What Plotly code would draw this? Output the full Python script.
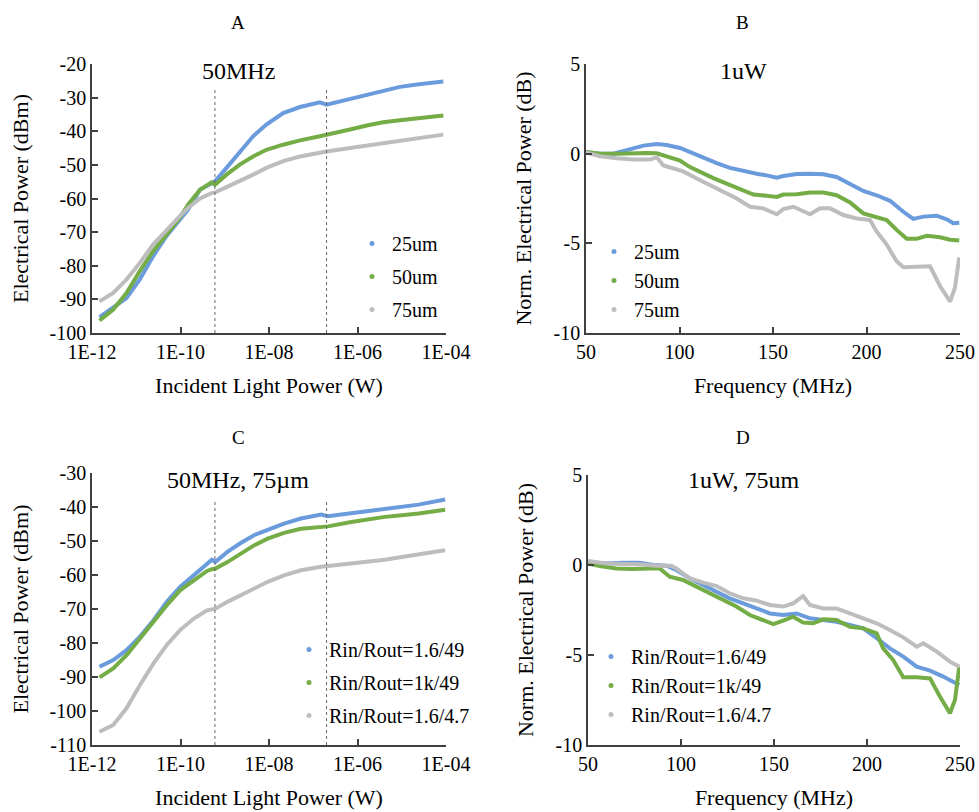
import plotly.graph_objects as go

FONT = "Liberation Serif, Times New Roman, DejaVu Serif, serif"
BLUE = "#6A9BDC"
GREEN = "#74AC46"
GRAY = "#BDBDBD"
COLORS = [BLUE, GREEN, GRAY]

# ---------------- Panel A: 50 MHz, Electrical power vs incident light power
a_logp = [-11.83, -11.52, -11.22, -10.92, -10.62, -10.32, -10.02, -9.83, -9.56, -9.30, -9.22,
          -8.96, -8.66, -8.36, -8.06, -7.68, -7.30, -6.85, -6.70, -6.17, -5.79, -5.42, -5.04,
          -4.66, -4.06]
a_25um = [-95.3, -92.5, -89.6, -84.1, -77.2, -71.2, -66.3, -63.3, -57.4, -55.3, -54.9,
          -50.9, -46.0, -41.5, -38.0, -34.6, -32.8, -31.4, -32.1, -30.4, -29.1, -27.8, -26.8,
          -26.1, -25.2]
a_50um = [-96.3, -93.0, -88.1, -81.6, -75.7, -70.7, -65.8, -61.8, -57.4, -55.2, -55.9,
          -52.9, -49.9, -47.5, -45.5, -44.0, -42.7, -41.5, -41.0, -39.5, -38.3, -37.3, -36.7,
          -36.2, -35.3]
a_75um = [-90.6, -88.1, -84.1, -79.2, -73.7, -69.3, -65.3, -62.8, -60.0, -58.4, -58.2,
          -56.6, -54.9, -52.9, -50.9, -48.9, -47.5, -46.2, -46.0, -45.0, -44.3, -43.5, -43.0,
          -42.3, -41.0]
a_names = ["25um", "50um", "75um"]

# ---------------- Panel B: 1 uW, normalized power vs frequency
b_f25 = [50, 57.5, 64.6, 70, 75.3, 80.7, 87.8, 93.1, 100.3, 105.6, 112.7, 119.9, 127, 134.1,
         141.3, 146.6, 152, 155.5, 162.7, 169.8, 176.9, 184, 191.2, 198.3, 205.4, 212.6,
         219.7, 225, 230.4, 237.5, 242.9, 246.4, 249.6]
b_25um = [0.1, 0.0, 0.0, 0.17, 0.32, 0.45, 0.54, 0.48, 0.32, 0.08, -0.25, -0.53, -0.79, -0.97,
          -1.12, -1.21, -1.34, -1.25, -1.14, -1.12, -1.15, -1.30, -1.67, -2.08, -2.32, -2.63,
          -3.24, -3.64, -3.51, -3.46, -3.66, -3.88, -3.85]
b_f50 = [50, 57.5, 66.4, 73.5, 82.4, 87.8, 93.1, 100.3, 105.6, 111, 118.1, 125.2, 132.4, 139.5,
         146.6, 152, 155.5, 162.7, 169.8, 176.9, 184, 191.2, 198.3, 205.4, 210.8, 216.1, 221.5,
         226.8, 232.2, 239.3, 244.7, 249.6]
b_50um = [0.1, 0.0, 0.0, 0.04, 0.04, 0.02, -0.14, -0.38, -0.75, -1.03, -1.36, -1.67, -1.95,
          -2.28, -2.35, -2.41, -2.28, -2.26, -2.17, -2.17, -2.32, -2.72, -3.33, -3.51, -3.70,
          -4.25, -4.75, -4.75, -4.58, -4.66, -4.80, -4.84]
b_f75 = [50, 57.5, 66.4, 75.3, 84.2, 87.8, 91.4, 96.7, 102, 109.2, 116.3, 123.4, 130.6, 137.7,
         144.8, 152, 155.5, 160.9, 166.2, 169.8, 175.1, 180.5, 187.6, 194.7, 201.9, 205.4,
         210.8, 216.1, 219.7, 226.8, 234, 239.3, 244.7, 247.3, 248.2, 249.6]
b_75um = [0.07, -0.14, -0.25, -0.33, -0.33, -0.20, -0.66, -0.80, -0.99, -1.39, -1.76, -2.13,
          -2.50, -2.96, -3.05, -3.38, -3.09, -2.96, -3.24, -3.38, -3.05, -3.05, -3.42, -3.61,
          -3.70, -4.34, -5.07, -6.00, -6.33, -6.33, -6.28, -7.38, -8.25, -7.47, -6.65, -5.78]

# ---------------- Panel C: 50 MHz, 75 um, different Rin/Rout
c_logp = [-11.83, -11.52, -11.22, -10.92, -10.61, -10.31, -10.01, -9.70, -9.40, -9.29, -9.21,
          -8.94, -8.64, -8.34, -8.03, -7.66, -7.28, -6.82, -6.67, -6.14, -5.76, -5.38, -5.00,
          -4.62, -4.02]
c_r1 = [-87.0, -85.0, -82.1, -78.2, -73.3, -67.9, -63.5, -60.1, -56.6, -55.5, -56.1,
        -53.2, -50.6, -48.3, -46.7, -44.9, -43.4, -42.2, -42.7, -41.8, -41.0, -40.5, -39.8,
        -39.3, -37.8]
c_r2 = [-90.1, -87.5, -83.6, -78.7, -73.8, -68.9, -64.5, -61.5, -58.8, -58.3, -58.1,
        -56.2, -53.7, -51.3, -49.3, -47.6, -46.4, -45.8, -45.7, -44.4, -43.6, -42.9, -42.4,
        -41.9, -40.8]
c_r3 = [-106.1, -104.1, -99.2, -92.4, -86.0, -80.6, -76.2, -72.8, -70.4, -70.0, -69.9,
        -67.9, -65.9, -64.0, -62.0, -60.1, -58.6, -57.6, -57.4, -56.6, -56.2, -55.5, -54.7,
        -53.9, -52.7]
c_names = ["Rin/Rout=1.6/49", "Rin/Rout=1k/49", "Rin/Rout=1.6/4.7"]

# ---------------- Panel D: 1 uW, 75 um, different Rin/Rout
d_f1 = [50, 59.9, 68.8, 77.8, 85, 92.2, 97.5, 104.7, 111.9, 119.1, 126.2, 133.4, 140.6, 147.8,
        154.9, 162.1, 169.3, 176.5, 183.6, 190.8, 198, 205.2, 212.3, 219.5, 226.7, 233.9, 241,
        249.6]
d_r1 = [0.15, 0.09, 0.13, 0.13, 0.0, -0.04, -0.28, -0.74, -1.11, -1.48, -1.85, -2.13, -2.41,
        -2.69, -2.78, -2.69, -2.96, -3.06, -3.15, -3.33, -3.52, -4.07, -4.63, -5.09, -5.65,
        -5.87, -6.20, -6.67]
d_f2 = [50, 56.3, 65.2, 74.2, 83.2, 88.6, 93.9, 101.1, 108.3, 115.5, 122.6, 129.8, 137, 144.2,
        149.6, 154.9, 160.3, 165.7, 171.1, 176.5, 183.6, 190.8, 198, 205.2, 208.7, 214.1,
        219.5, 226.7, 233.9, 239.2, 244.6, 247.3, 249.6]
d_r2 = [0.09, -0.06, -0.19, -0.22, -0.19, -0.19, -0.65, -0.83, -1.20, -1.57, -1.94, -2.31,
        -2.78, -3.06, -3.28, -3.09, -2.87, -3.20, -3.24, -3.02, -3.06, -3.43, -3.52, -3.80,
        -4.63, -5.28, -6.24, -6.24, -6.30, -7.31, -8.24, -7.50, -5.65]
d_f3 = [50, 59.9, 68.8, 77.8, 86.8, 94.8, 97.5, 104.7, 111.9, 119.1, 126.2, 133.4, 140.6,
        147.8, 154.9, 160.3, 165.7, 167.5, 169.3, 176.5, 183.6, 190.8, 198, 205.2, 212.3,
        219.5, 226.7, 230.3, 237.5, 244.6, 249.6]
d_r3 = [0.22, 0.09, 0.06, 0.04, -0.04, -0.04, -0.19, -0.74, -0.98, -1.17, -1.57, -1.85,
        -1.98, -2.22, -2.31, -2.13, -1.72, -1.94, -2.22, -2.41, -2.41, -2.69, -2.96, -3.24,
        -3.61, -4.02, -4.54, -4.35, -4.81, -5.37, -5.65]

# marker lines (dotted verticals) in panels A and C
vline_power = [6.0e-10, 2.0e-7]
vline_top_a = -27.6
vline_top_c = -38.0

# tick values / labels
log_ticks = [1e-12, 1e-10, 1e-8, 1e-6, 1e-4]
log_text = ["1E-12", "1E-10", "1E-08", "1E-06", "1E-04"]
a_yticks = [-100, -90, -80, -70, -60, -50, -40, -30, -20]
c_yticks = [-110, -100, -90, -80, -70, -60, -50, -40, -30]
bd_yticks = [-10, -5, 0, 5]
bd_xticks = [50, 100, 150, 200, 250]

panel_titles = ["A", "B", "C", "D"]
panel_notes = ["50MHz", "1uW", "50MHz, 75\u00b5m", "1uW, 75um"]

fig = go.Figure()


def add_series(xs, ys, names, xa, ya, legend, log=False):
    for i, (x, y, n) in enumerate(zip(xs, ys, names)):
        xv = [10 ** v for v in x] if log else x
        fig.add_trace(go.Scatter(x=xv, y=y, mode="lines", line=dict(color=COLORS[i], width=4),
                                 xaxis=xa, yaxis=ya, showlegend=False, hoverinfo="x+y"))
        fig.add_trace(go.Scatter(x=[None], y=[None], mode="markers", name=n,
                                 marker=dict(color=COLORS[i], size=5),
                                 xaxis=xa, yaxis=ya, legend=legend, legendgroup=legend + str(i)))


add_series([a_logp] * 3, [a_25um, a_50um, a_75um], a_names, "x", "y", "legend", log=True)
add_series([b_f25, b_f50, b_f75], [b_25um, b_50um, b_75um], a_names, "x2", "y2", "legend2")
add_series([c_logp] * 3, [c_r1, c_r2, c_r3], c_names, "x3", "y3", "legend3", log=True)
add_series([d_f1, d_f2, d_f3], [d_r1, d_r2, d_r3], c_names, "x4", "y4", "legend4")

W, H = 979, 812
def px(v):
    return v / W
def py(v):
    return 1 - v / H

dom = {
    "A": ([px(92), px(446)], [py(333), py(64)]),
    "B": ([px(586), px(960)], [py(333), py(64)]),
    "C": ([px(92), px(446)], [py(745), py(473)]),
    "D": ([px(588), px(960)], [py(745), py(475)]),
}

tickfont = dict(family=FONT, size=20, color="black")
titlefont = dict(family=FONT, size=22, color="black")
axcommon = dict(showline=True, linecolor="#404040", linewidth=1.5, ticks="inside",
                ticklen=6, tickwidth=1.5, tickcolor="#404040", showgrid=False, zeroline=False,
                tickfont=tickfont, automargin=False)


def lbl(vals):
    return [str(v) for v in vals]


layout = dict(
    width=W, height=H, margin=dict(l=0, r=0, t=0, b=0, autoexpand=False),
    plot_bgcolor="white", paper_bgcolor="white",
    font=dict(family=FONT, size=20, color="black"),
    xaxis=dict(domain=dom["A"][0], type="log", range=[-12, -4], tickvals=log_ticks,
               ticktext=log_text, anchor="y",
               title=dict(text="Incident Light Power (W)", font=titlefont, standoff=16), **axcommon),
    yaxis=dict(domain=dom["A"][1], range=[-100, -20], tickvals=a_yticks, ticktext=lbl(a_yticks),
               anchor="x",
               title=dict(text="Electrical Power (dBm)", font=titlefont, standoff=15), **axcommon),
    xaxis2=dict(domain=dom["B"][0], range=[50, 250], tickvals=bd_xticks, ticktext=lbl(bd_xticks),
                anchor="y2",
                title=dict(text="Frequency (MHz)", font=titlefont, standoff=16), **axcommon),
    yaxis2=dict(domain=dom["B"][1], range=[-10, 5], tickvals=bd_yticks, ticktext=lbl(bd_yticks),
                anchor="x2",
                title=dict(text="Norm. Electrical Power (dB)", font=titlefont, standoff=16), **axcommon),
    xaxis3=dict(domain=dom["C"][0], type="log", range=[-12, -4], tickvals=log_ticks,
                ticktext=log_text, anchor="y3",
                title=dict(text="Incident Light Power (W)", font=titlefont, standoff=16), **axcommon),
    yaxis3=dict(domain=dom["C"][1], range=[-110, -30], tickvals=c_yticks, ticktext=lbl(c_yticks),
                anchor="x3",
                title=dict(text="Electrical Power (dBm)", font=titlefont, standoff=15), **axcommon),
    xaxis4=dict(domain=dom["D"][0], range=[50, 250], tickvals=bd_xticks, ticktext=lbl(bd_xticks),
                anchor="y4",
                title=dict(text="Frequency (MHz)", font=titlefont, standoff=16), **axcommon),
    yaxis4=dict(domain=dom["D"][1], range=[-10, 5], tickvals=bd_yticks, ticktext=lbl(bd_yticks),
                anchor="x4",
                title=dict(text="Norm. Electrical Power (dB)", font=titlefont, standoff=16), **axcommon),
)
legfont = dict(family=FONT, size=20, color="black")
leg = dict(bgcolor="rgba(0,0,0,0)", font=legfont, xanchor="left", yanchor="top", itemwidth=30)
layout["legend"] = dict(x=px(352), y=py(224), tracegroupgap=4, **leg)
layout["legend2"] = dict(x=px(594), y=py(232), tracegroupgap=0, **leg)
layout["legend3"] = dict(x=px(289), y=py(630), tracegroupgap=4, **leg)
layout["legend4"] = dict(x=px(591), y=py(637), tracegroupgap=0, **leg)
fig.update_layout(**layout)

# panel letters and notes
title_pos = [(238, 22), (742, 22), (238, 437), (743, 437)]
note_pos = [(238, 71), (743, 71), (238, 480), (743, 480)]
for t, (x, y) in zip(panel_titles, title_pos):
    fig.add_annotation(text=t, x=px(x), y=py(y), xref="paper", yref="paper",
                       xanchor="center", yanchor="middle", showarrow=False,
                       font=dict(family=FONT, size=19, color="black"))
for t, (x, y) in zip(panel_notes, note_pos):
    fig.add_annotation(text=t, x=px(x), y=py(y), xref="paper", yref="paper",
                       xanchor="center", yanchor="middle", showarrow=False,
                       font=dict(family=FONT, size=24, color="black"))

for xv in vline_power:
    fig.add_shape(type="line", x0=xv, x1=xv, y0=-100, y1=vline_top_a, xref="x", yref="y",
                  line=dict(color="#666666", width=1, dash="dot"))
    fig.add_shape(type="line", x0=xv, x1=xv, y0=-110, y1=vline_top_c, xref="x3", yref="y3",
                  line=dict(color="#666666", width=1, dash="dot"))

fig.write_html("out.html")
